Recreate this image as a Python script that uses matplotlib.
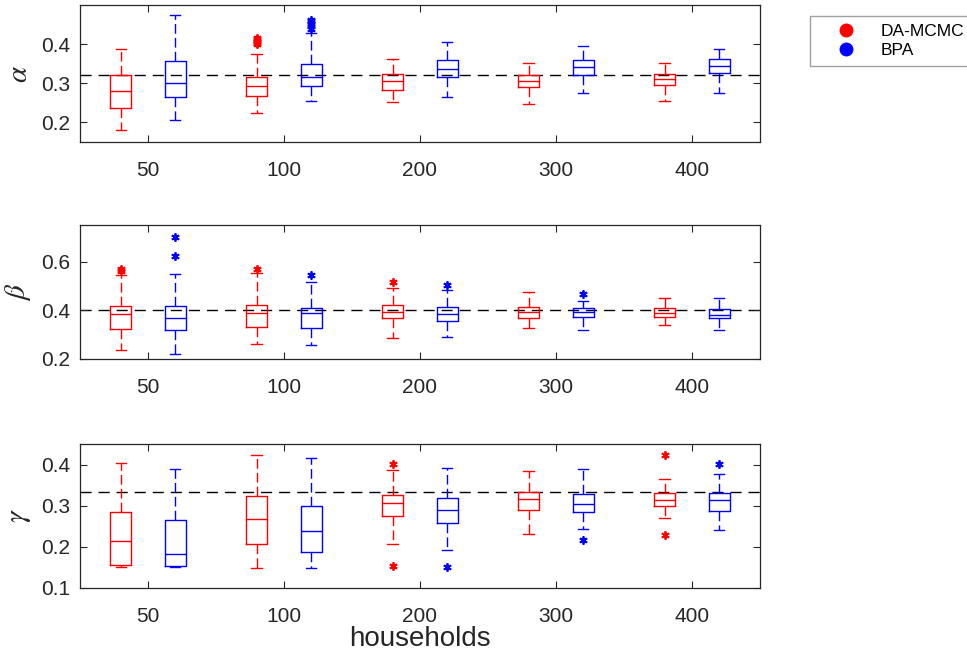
import matplotlib
matplotlib.use('Agg')
import matplotlib.pyplot as plt
from matplotlib.lines import Line2D

plt.rcParams['font.family'] = ['Liberation Sans', 'DejaVu Sans']
plt.rcParams['mathtext.fontset'] = 'stix'

# household counts (x groups)
households = ['50', '100', '200', '300', '400']
methods = ['DA-MCMC', 'BPA']
method_colors = ['#ff0000', '#0000ff']

# per panel: parameter name, true value, y-limits, ticks
params = [r'$\alpha$', r'$\beta$', r'$\gamma$']
true_vals = [0.32, 0.40, 1 / 3]
ylims = [(0.15, 0.5), (0.2, 0.75), (0.1, 0.45)]
yticks = [[0.2, 0.3, 0.4], [0.2, 0.4, 0.6], [0.1, 0.2, 0.3, 0.4]]

# box stats per group: (whislo, q1, med, q3, whishi, outliers)
alpha_damcmc = [
    (0.181, 0.238, 0.280, 0.321, 0.388, []),
    (0.224, 0.268, 0.292, 0.315, 0.374, [0.400, 0.404, 0.408, 0.412, 0.415]),
    (0.251, 0.283, 0.306, 0.325, 0.362, []),
    (0.248, 0.290, 0.306, 0.321, 0.352, []),
    (0.256, 0.295, 0.310, 0.324, 0.352, []),
]
alpha_bpa = [
    (0.207, 0.266, 0.301, 0.357, 0.474, []),
    (0.255, 0.292, 0.315, 0.350, 0.429, [0.440, 0.446, 0.452, 0.458, 0.463]),
    (0.264, 0.316, 0.336, 0.360, 0.406, []),
    (0.274, 0.322, 0.341, 0.359, 0.395, []),
    (0.276, 0.326, 0.345, 0.363, 0.388, []),
]
beta_damcmc = [
    (0.236, 0.325, 0.384, 0.419, 0.544, [0.562, 0.568]),
    (0.260, 0.333, 0.389, 0.423, 0.555, [0.570]),
    (0.288, 0.367, 0.393, 0.423, 0.490, [0.515]),
    (0.326, 0.370, 0.393, 0.414, 0.473, []),
    (0.338, 0.373, 0.389, 0.411, 0.452, []),
]
beta_bpa = [
    (0.221, 0.318, 0.367, 0.419, 0.549, [0.623, 0.700]),
    (0.259, 0.327, 0.388, 0.411, 0.518, [0.545]),
    (0.289, 0.358, 0.386, 0.415, 0.484, [0.505]),
    (0.321, 0.371, 0.392, 0.410, 0.438, [0.468]),
    (0.319, 0.367, 0.382, 0.407, 0.452, []),
]
gamma_damcmc = [
    (0.152, 0.156, 0.213, 0.285, 0.403, []),
    (0.149, 0.206, 0.267, 0.323, 0.423, []),
    (0.206, 0.275, 0.307, 0.325, 0.387, [0.154, 0.402]),
    (0.232, 0.290, 0.315, 0.333, 0.384, []),
    (0.269, 0.299, 0.314, 0.331, 0.366, [0.228, 0.422]),
]
gamma_bpa = [
    (0.150, 0.154, 0.182, 0.266, 0.388, []),
    (0.148, 0.187, 0.239, 0.298, 0.415, []),
    (0.193, 0.259, 0.289, 0.318, 0.391, [0.151]),
    (0.244, 0.285, 0.305, 0.328, 0.390, [0.217]),
    (0.241, 0.286, 0.314, 0.330, 0.376, [0.401]),
]
panel_data = [[alpha_damcmc, alpha_bpa], [beta_damcmc, beta_bpa], [gamma_damcmc, gamma_bpa]]

fig = plt.figure(figsize=(9.67, 6.52), dpi=100)
axes_rects = [
    [0.0827, 0.7822, 0.7032, 0.2101],
    [0.0827, 0.4494, 0.7032, 0.2055],
    [0.0827, 0.0982, 0.7032, 0.2209],
]
offsets = [-0.2, 0.2]
frame_col = '#262626'

for i, rect in enumerate(axes_rects):
    ax = fig.add_axes(rect)
    for m, series in enumerate(panel_data[i]):
        col = method_colors[m]
        stats = []
        for lo, q1, med, q3, hi, fl in series:
            stats.append({'whislo': lo, 'q1': q1, 'med': med, 'q3': q3,
                          'whishi': hi, 'fliers': fl})
        pos = [k + 1 + offsets[m] for k in range(len(households))]
        ax.bxp(stats, positions=pos, widths=0.155, manage_ticks=False,
               boxprops=dict(color=col, linewidth=1.0),
               medianprops=dict(color=col, linewidth=1.0),
               whiskerprops=dict(color=col, linewidth=1.0, linestyle=(0, (7, 3))),
               capprops=dict(color=col, linewidth=1.0),
               flierprops=dict(marker=(6, 2, 0), markersize=6, markeredgewidth=1.3,
                               markerfacecolor=col, markeredgecolor=col,
                               linestyle='none'))
    ax.axhline(true_vals[i], color='black', linewidth=1.0, dashes=(8, 5), zorder=0.5)
    ax.set_xlim(0.5, 5.5)
    ax.set_ylim(*ylims[i])
    ax.set_xticks(range(1, len(households) + 1))
    ax.set_xticklabels(households)
    ax.set_yticks(yticks[i])
    ax.set_yticklabels([f'{t:.1f}' for t in yticks[i]])
    ax.tick_params(direction='in', top=True, right=True, labelsize=15,
                   colors=frame_col, length=5, pad=7)
    ax.tick_params(axis='x', pad=14)
    for s in ax.spines.values():
        s.set_color(frame_col)
        s.set_linewidth(0.9)
    ax.set_ylabel(params[i], fontsize=21, color=frame_col, labelpad=6)
    if i == 2:
        ax.set_xlabel('households', fontsize=20, color=frame_col, labelpad=0)

handles = [Line2D([], [], marker='o', linestyle='none', markersize=9,
                  markerfacecolor=c, markeredgecolor=c) for c in method_colors]
leg = fig.legend(handles, methods, loc='upper left',
                 bbox_to_anchor=(810 / 967, 1 - 16 / 652), fontsize=12.5,
                 frameon=True, fancybox=False, borderpad=0.45, handletextpad=0.3,
                 handlelength=3.3, labelspacing=0.25, borderaxespad=0)
leg.get_frame().set_edgecolor('#888888')
leg.get_frame().set_linewidth(1.0)

fig.savefig('out.png', dpi=100)
